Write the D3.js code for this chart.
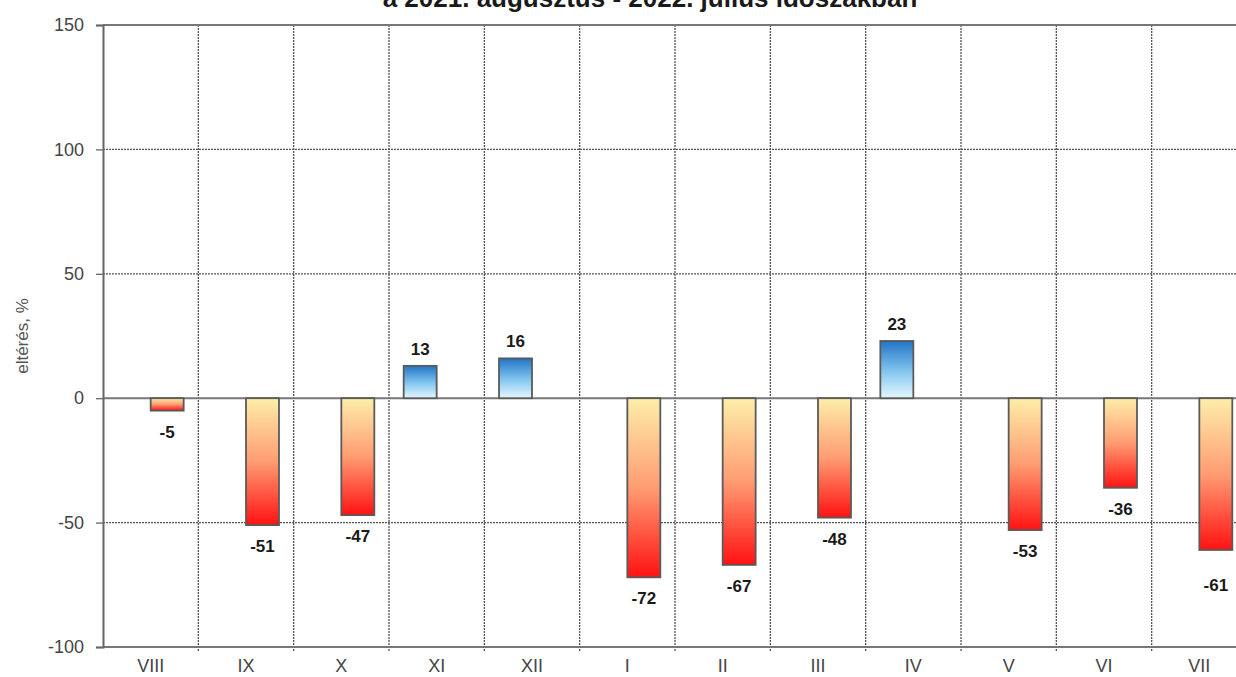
<!DOCTYPE html>
<html>
<head>
<meta charset="utf-8">
<script src="https://cdn.jsdelivr.net/npm/d3@7"></script>
<style>
  html, body { margin: 0; padding: 0; background: #fff; }
  svg { display: block; }
</style>
</head>
<body>
<svg id="chart" width="1236" height="677"></svg>
<script>
// Havi eltérések (%), 2021. augusztus – 2022. július
const months = ["VIII", "IX", "X", "XI", "XII", "I", "II", "III", "IV", "V", "VI", "VII"];
const values = [-5, -51, -47, 13, 16, -72, -67, -48, 23, -53, -36, -61];
const yTicks = [-100, -50, 0, 50, 100, 150];
const seriesKeys = ["növekedés", "csökkenés"];
const titleText = "a 2021. augusztus - 2022. július időszakban";
const yTitle = "eltérés, %";

const W = 1236, H = 677;
const margin = { top: 25, left: 103, bottom: 30 };
const plotRight = 1247; // plot area continues past the page edge
const plotBottom = H - margin.bottom;
const FONT = "Arial, 'Liberation Sans', sans-serif";

const svg = d3.select("#chart");

const x0 = d3.scaleBand().domain(months).range([margin.left, plotRight]).padding(0);
const x1 = d3.scaleBand().domain(seriesKeys).range([0, x0.bandwidth()]).paddingInner(0).paddingOuter(0.445);
const y = d3.scaleLinear().domain([-100, 150]).range([plotBottom, margin.top]);

// plain hyphen-minus, as in the printed labels
const fmt = v => String(v);

// gradients
const defs = svg.append("defs");
const gBlue = defs.append("linearGradient").attr("id", "gradUp")
  .attr("x1", 0).attr("y1", 0).attr("x2", 0).attr("y2", 1);
gBlue.append("stop").attr("offset", "0%").attr("stop-color", "#2274c6");
gBlue.append("stop").attr("offset", "55%").attr("stop-color", "#86c8f0");
gBlue.append("stop").attr("offset", "100%").attr("stop-color", "#e6f7ff");

const gRed = defs.append("linearGradient").attr("id", "gradDown")
  .attr("x1", 0).attr("y1", 0).attr("x2", 0).attr("y2", 1);
gRed.append("stop").attr("offset", "0%").attr("stop-color", "#fdeeaa");
gRed.append("stop").attr("offset", "50%").attr("stop-color", "#ff9c72");
gRed.append("stop").attr("offset", "100%").attr("stop-color", "#ff1212");

// horizontal grid (dotted)
svg.append("g")
  .selectAll("line")
  .data(yTicks.filter(t => t !== 0 && t !== 150 && t !== -100))
  .join("line")
  .attr("x1", margin.left).attr("x2", plotRight)
  .attr("y1", d => y(d)).attr("y2", d => y(d))
  .attr("stroke", "#555").attr("stroke-width", 1.3)
  .attr("stroke-dasharray", "2,1");

// vertical grid at category boundaries (dotted)
svg.append("g")
  .selectAll("line")
  .data(months.slice(1))
  .join("line")
  .attr("x1", d => x0(d)).attr("x2", d => x0(d))
  .attr("y1", margin.top).attr("y2", plotBottom + 4)
  .attr("stroke", "#555").attr("stroke-width", 1.3)
  .attr("stroke-dasharray", "2,1");

// frame: top border, bottom axis, zero line
[150, -100, 0].forEach(v => {
  svg.append("line").attr("x1", margin.left).attr("x2", plotRight)
    .attr("y1", y(v)).attr("y2", y(v)).attr("stroke", "#777").attr("stroke-width", 2);
});

// y axis
const yAxis = svg.append("g")
  .attr("transform", `translate(${margin.left},0)`)
  .call(d3.axisLeft(y).tickValues(yTicks).tickSize(7).tickPadding(12).tickFormat(fmt));
yAxis.select(".domain").attr("stroke", "#666").attr("stroke-width", 2);
yAxis.selectAll(".tick line").attr("stroke", "#666").attr("stroke-width", 1.3);
yAxis.selectAll(".tick text")
  .attr("font-family", FONT)
  .attr("font-size", 18).attr("fill", "#444");

// x axis labels
const xAxis = svg.append("g")
  .attr("transform", `translate(0,${plotBottom})`)
  .call(d3.axisBottom(x0).tickSize(0).tickPadding(12));
xAxis.select(".domain").remove();
xAxis.selectAll(".tick text")
  .attr("font-family", FONT)
  .attr("font-size", 18).attr("fill", "#444");

// bars
const seriesOf = v => v >= 0 ? seriesKeys[0] : seriesKeys[1];
const rows = months.map((m, i) => ({ m, v: values[i] }));
svg.append("g")
  .selectAll("rect")
  .data(rows)
  .join("rect")
  .attr("x", d => x0(d.m) + x1(seriesOf(d.v)))
  .attr("width", x1.bandwidth())
  .attr("y", d => y(Math.max(0, d.v)))
  .attr("height", d => Math.abs(y(d.v) - y(0)))
  .attr("fill", d => d.v >= 0 ? "url(#gradUp)" : "url(#gradDown)")
  .attr("stroke", "#5a5a5a").attr("stroke-width", 1.8);

// value labels
const labelNudge = { "VII": 14 };
svg.append("g")
  .selectAll("text")
  .data(rows)
  .join("text")
  .attr("x", d => x0(d.m) + x1(seriesOf(d.v)) + x1.bandwidth() / 2)
  .attr("y", d => d.v >= 0 ? y(d.v) - 11 : y(d.v) + 27 + (labelNudge[d.m] || 0))
  .attr("text-anchor", "middle")
  .attr("font-family", FONT)
  .attr("font-weight", "bold")
  .attr("font-size", 17)
  .attr("fill", "#1a1a1a")
  .text(d => fmt(d.v));

// y axis title
svg.append("text")
  .attr("transform", `translate(28,${(y(150) + y(-100)) / 2}) rotate(-90)`)
  .attr("text-anchor", "middle")
  .attr("font-family", FONT)
  .attr("font-size", 17).attr("fill", "#555")
  .text(yTitle);

// chart title (runs off the top edge)
svg.append("text")
  .attr("x", 650).attr("y", 7)
  .attr("text-anchor", "middle")
  .attr("font-family", FONT)
  .attr("font-weight", "bold")
  .attr("font-size", 26).attr("fill", "#1a1a1a")
  .text(titleText);
</script>
</body>
</html>
